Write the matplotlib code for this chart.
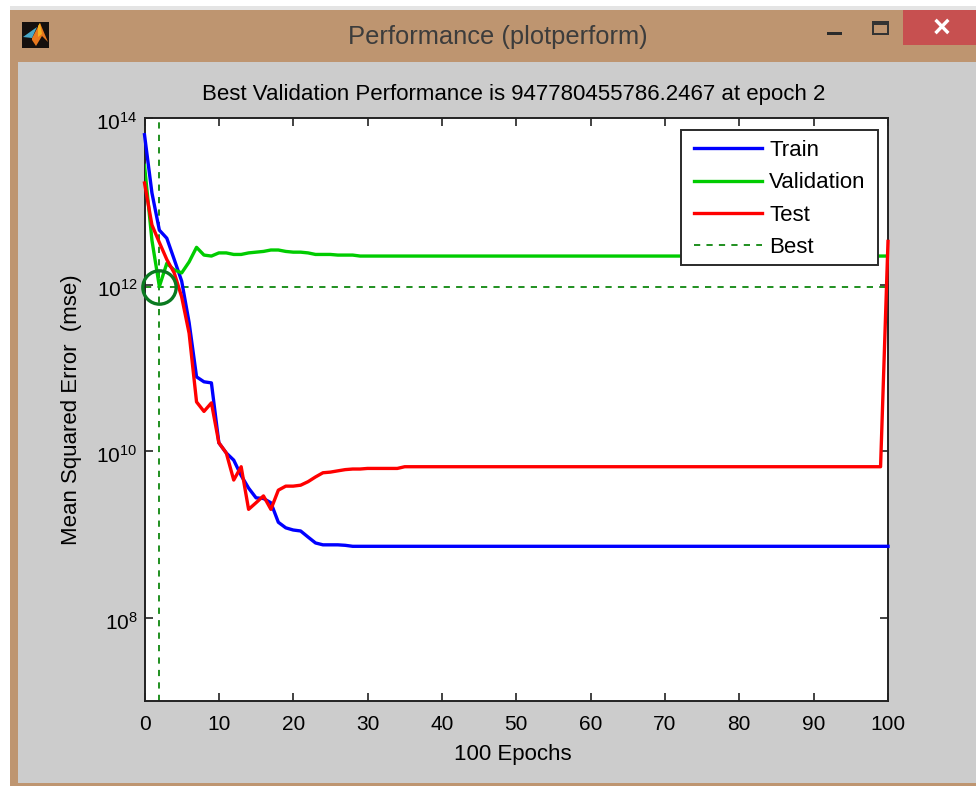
import numpy as np
import matplotlib
matplotlib.use('Agg')
import matplotlib.pyplot as plt
from matplotlib.patches import Rectangle, Polygon
from matplotlib.ticker import FixedLocator, NullLocator
from matplotlib.transforms import ScaledTranslation

plt.rcParams['font.family'] = ['Liberation Sans', 'DejaVu Sans']

W, H = 976., 786.

window_title = 'Performance (plotperform)'
plot_title = 'Best Validation Performance is 947780455786.2467 at epoch 2'
x_label = '100 Epochs'
y_label = 'Mean Squared Error  (mse)'
series_names = ['Train', 'Validation', 'Test', 'Best']

epochs = np.arange(0, 101)
best_epoch = 2
best_perf = 947780455786.2467

train = [6.3e13, 1.26e13, 4.5e12, 3.6e12, 2.0e12, 1.1e12, 3.5e11, 7.8e10, 6.8e10, 6.6e10,
         1.26e10, 9.5e9, 7.8e9, 5.1e9, 3.6e9, 2.75e9, 2.7e9, 2.4e9, 1.4e9, 1.2e9,
         1.13e9, 1.1e9, 9.3e8, 7.9e8, 7.5e8, 7.5e8, 7.5e8, 7.4e8] + [7.2e8] * 73
validation = [2.7e13, 3.4e12, best_perf, 1.8e12, 1.5e12, 1.38e12, 1.87e12, 2.8e12, 2.26e12, 2.2e12,
              2.4e12, 2.4e12, 2.3e12, 2.3e12, 2.4e12, 2.45e12, 2.5e12, 2.6e12, 2.6e12, 2.5e12,
              2.45e12, 2.45e12, 2.4e12, 2.3e12, 2.3e12, 2.3e12, 2.26e12, 2.26e12, 2.26e12] + [2.2e12] * 72
test = [1.66e13, 5.2e12, 3.2e12, 2.0e12, 1.38e12, 7.1e11, 2.6e11, 3.9e10, 3.0e10, 3.8e10,
        1.26e10, 9.5e9, 4.5e9, 6.5e9, 2.0e9, 2.4e9, 2.9e9, 2.0e9, 3.4e9, 3.8e9,
        3.8e9, 3.9e9, 4.3e9, 4.9e9, 5.5e9, 5.6e9, 5.8e9, 6.0e9, 6.1e9, 6.1e9] \
       + [6.2e9] * 5 + [6.5e9] * 65 + [3.3e12]

xticks = [0, 10, 20, 30, 40, 50, 60, 70, 80, 90, 100]
yticks = [1e8, 1e10, 1e12, 1e14]


def box(x0, y0, x1, y1, color, z=0):
    # pixel box, y measured from the top of the picture
    fig.add_artist(Rectangle((x0 / W, 1 - y1 / H), (x1 - x0) / W, (y1 - y0) / H,
                             transform=fig.transFigure, facecolor=color,
                             edgecolor='none', zorder=z))


def px_poly(points, color, z=2):
    points = [(x / W, 1 - y / H) for x, y in points]
    fig.add_artist(Polygon(points, closed=True, transform=fig.transFigure,
                           facecolor=color, edgecolor='none', zorder=z))


fig = plt.figure(figsize=(W / 100., H / 100.), dpi=100, facecolor='white')

# window chrome
box(10, 6, 976, 10, '#e4e4e4')
box(10, 10, 976, 786, '#be9570')
box(18, 62, 976, 783, '#cccccc')
box(903, 10, 976, 45, '#c75050', 1)
box(22, 22, 49, 48, '#15100e', 1)
px_poly([(32, 38), (40, 23), (48, 42), (42, 36), (36, 46), (32, 40)], '#e8781e')
px_poly([(23, 37), (37, 27), (32, 38)], '#48a8c8', 3)
px_poly([(38, 26), (40, 23), (42, 34), (38, 37)], '#f5b020', 3)

fig.text(498. / W, 1 - 37. / H, window_title, ha='center', va='center',
         fontsize=18.4, color='#3c3c3c')
fig.text(942. / W, 1 - 29. / H, '\u00d7', ha='center', va='center',
         fontsize=22, color='white', fontweight='bold')
box(827, 32, 842, 35, '#2b2b2b', 1)
box(872, 21, 889, 35, '#333333', 1)
box(874, 25, 887, 33, '#be9570', 2)

ax = fig.add_axes([144.5 / W, 1 - 701. / H, (888. - 144.5) / W, (701. - 118.) / H])
ax.set_facecolor('white')

ax.semilogy(epochs, train, color='#0000ff', lw=2.4, label=series_names[0], clip_on=False, zorder=3)
ax.semilogy(epochs, validation, color='#00cc00', lw=2.4, label=series_names[1], zorder=3)
ax.semilogy(epochs, test, color='#ff0000', lw=2.4, label=series_names[2], clip_on=False, zorder=4)
ax.axhline(best_perf, color='#1f8f1f', lw=1.4, ls=(0, (3.2, 3.2)), label=series_names[3], zorder=2)
ax.axvline(best_epoch, color='#1f8f1f', lw=1.4, ls=(0, (3.2, 3.2)), zorder=2)
ax.plot([best_epoch], [best_perf], 'o', ms=24, mfc='none', mec='#0a7a20', mew=2.4, zorder=5, clip_on=False)

ax.set_xlim(0, 100)
ax.set_ylim(1e7, 1e14)
ax.xaxis.set_major_locator(FixedLocator(xticks))
ax.yaxis.set_major_locator(FixedLocator(yticks))
ax.xaxis.set_minor_locator(NullLocator())
ax.yaxis.set_minor_locator(NullLocator())
ax.tick_params('both', length=6, width=1.2, direction='in', top=True, right=True,
               labelsize=15, color='#222222')
ax.tick_params('x', pad=10)
ax.tick_params('y', pad=5)
for s in ax.spines.values():
    s.set_linewidth(1.4)
    s.set_color('#222222')

# y tick labels sit a little below their ticks in the original
for t in ax.get_yticklabels():
    t.set_transform(t.get_transform() + ScaledTranslation(0, -3. / 100., fig.dpi_scale_trans))

ax.set_title(plot_title, fontsize=16, pad=13, x=0.496)
ax.set_xlabel(x_label, fontsize=16, labelpad=7, x=0.496)
ax.set_ylabel(y_label, fontsize=16, labelpad=10)

# legend box is drawn by hand, its padding differs left/right and top/bottom
ax.add_patch(Rectangle((681. / W, 1 - 265. / H), 197. / W, 135. / H, transform=fig.transFigure,
                       facecolor='white', edgecolor='#2a2a2a', lw=1.4, zorder=4.9))
leg = ax.legend(loc='upper left', bbox_to_anchor=(694. / W, 1 - 140. / H),
                bbox_transform=fig.transFigure, fontsize=16, frameon=False,
                borderaxespad=0, borderpad=0, handlelength=3.06, handletextpad=0.32,
                labelspacing=0.51)
leg.set_zorder(6)

fig.savefig('out.png', dpi=100, facecolor=fig.get_facecolor())
